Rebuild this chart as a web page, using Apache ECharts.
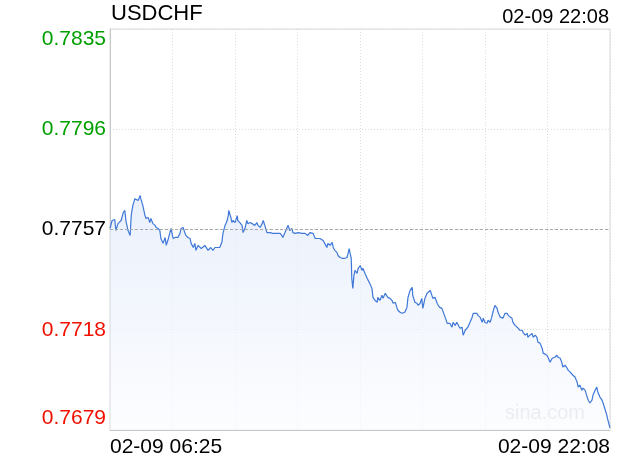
<!DOCTYPE html>
<html><head><meta charset="utf-8">
<script src="https://cdn.jsdelivr.net/npm/echarts@6/dist/echarts.min.js"></script>
<style>html,body{margin:0;padding:0;background:#fff}#c{width:620px;height:460px}</style>
</head><body><div id="c"></div>
<script>
const symbolName = 'USDCHF';
const updateTime = '02-09 22:08';
const watermark = 'sina.com';
const sessionMinutes = 943; // 06:25 -> 22:08
const xTickValues = [0, 943];
const xTickLabels = ['02-09 06:25', '02-09 22:08'];
const prevClose = 0.7757;
const yTicks = [0.7679, 0.7718, 0.7757, 0.7796, 0.7835];
const yTickLabels = ['0.7679', '0.7718', '0.7757', '0.7796', '0.7835'];

const minutes = [0,4,9,11,15,21,25,28,30,34,38,40,43,47,49,53,57,58,62,66,68,72,75,77,81,85,87,91,94,96,100,104,106,109,113,115,119,123,128,132,134,138,141,143,147,151,153,157,160,162,166,172,179,185,190,194,198,202,207,211,213,217,221,223,224,228,230,232,236,240,241,245,249,251,255,258,260,264,268,270,273,277,279,283,287,289,292,296,298,302,307,315,321,324,326,330,334,336,339,343,345,349,355,362,368,373,377,383,387,390,396,402,405,409,411,415,419,421,424,428,430,434,438,439,443,447,449,451,455,456,458,460,462,466,468,472,475,477,481,485,487,490,494,496,500,504,505,509,513,515,519,522,524,528,532,534,538,541,543,547,551,553,556,560,562,566,570,571,575,579,581,585,588,590,594,598,600,604,607,609,613,617,619,622,626,628,632,636,638,641,645,647,651,654,656,660,664,666,670,673,675,679,683,685,688,692,694,698,702,704,707,711,713,717,720,722,726,730,732,736,739,741,745,749,751,754,758,760,764,768,769,773,777,779,783,787,788,792,796,798,802,805,807,811,815,817,820,824,826,830,834,836,839,843,845,849,852,854,858,862,864,868,871,873,877,881,883,886,890,892,896,900,902,905,909,911,915,918,920,924,928,930,934,937,939,943];

const prices = [0.77574,0.77605,0.77609,0.77566,0.77593,0.77605,0.77636,0.77644,0.77605,0.77566,0.77547,0.77624,0.77663,0.77690,0.77694,0.77683,0.77702,0.77690,0.77663,0.77624,0.77613,0.77617,0.77597,0.77613,0.77593,0.77586,0.77578,0.77574,0.77566,0.77535,0.77516,0.77539,0.77508,0.77527,0.77558,0.77574,0.77535,0.77539,0.77539,0.77555,0.77574,0.77578,0.77558,0.77547,0.77539,0.77535,0.77516,0.77500,0.77516,0.77489,0.77508,0.77496,0.77508,0.77489,0.77500,0.77489,0.77500,0.77500,0.77500,0.77520,0.77555,0.77586,0.77605,0.77624,0.77644,0.77617,0.77597,0.77605,0.77597,0.77624,0.77605,0.77597,0.77586,0.77558,0.77578,0.77605,0.77593,0.77597,0.77593,0.77597,0.77586,0.77597,0.77586,0.77578,0.77593,0.77605,0.77586,0.77558,0.77555,0.77558,0.77555,0.77555,0.77555,0.77547,0.77539,0.77558,0.77578,0.77586,0.77566,0.77574,0.77558,0.77555,0.77558,0.77555,0.77555,0.77547,0.77558,0.77555,0.77535,0.77539,0.77535,0.77527,0.77516,0.77500,0.77516,0.77508,0.77520,0.77500,0.77489,0.77481,0.77469,0.77461,0.77458,0.77461,0.77458,0.77461,0.77477,0.77496,0.77458,0.77380,0.77341,0.77391,0.77411,0.77399,0.77419,0.77430,0.77411,0.77419,0.77399,0.77380,0.77372,0.77360,0.77341,0.77306,0.77294,0.77287,0.77306,0.77294,0.77314,0.77302,0.77322,0.77326,0.77306,0.77302,0.77294,0.77283,0.77287,0.77267,0.77256,0.77248,0.77244,0.77244,0.77248,0.77267,0.77306,0.77333,0.77345,0.77314,0.77287,0.77283,0.77275,0.77283,0.77302,0.77263,0.77302,0.77322,0.77326,0.77333,0.77314,0.77302,0.77306,0.77283,0.77275,0.77267,0.77263,0.77267,0.77229,0.77205,0.77209,0.77205,0.77190,0.77209,0.77197,0.77209,0.77205,0.77186,0.77190,0.77159,0.77178,0.77178,0.77190,0.77209,0.77229,0.77244,0.77248,0.77244,0.77236,0.77229,0.77209,0.77225,0.77209,0.77205,0.77217,0.77209,0.77229,0.77248,0.77275,0.77263,0.77248,0.77229,0.77236,0.77225,0.77244,0.77244,0.77236,0.77232,0.77225,0.77209,0.77197,0.77190,0.77186,0.77178,0.77178,0.77170,0.77159,0.77166,0.77151,0.77159,0.77166,0.77151,0.77159,0.77151,0.77132,0.77128,0.77108,0.77089,0.77089,0.77081,0.77073,0.77054,0.77069,0.77069,0.77073,0.77081,0.77073,0.77069,0.77054,0.77035,0.77042,0.77031,0.77023,0.77015,0.77011,0.77003,0.76996,0.76976,0.76957,0.76965,0.76945,0.76953,0.76945,0.76918,0.76906,0.76895,0.76906,0.76926,0.76945,0.76957,0.76938,0.76918,0.76906,0.76895,0.76868,0.76848,0.76829,0.76798];

const FONT = '"Liberation Sans", Arial, Helvetica, sans-serif';
const chart = echarts.init(document.getElementById('c'), null, {renderer: 'canvas'});

function yLabelStyle(v) {
  if (Math.abs(v - prevClose) < 1e-6) return 'mid';
  return v > prevClose ? 'up' : 'down';
}

chart.setOption({
  animation: false,
  backgroundColor: '#fff',
  title: [
    {text: symbolName, left: 111, top: 3, padding: 0,
     textStyle: {fontFamily: FONT, fontSize: 22, fontWeight: 'normal', color: '#000'}},
    {text: updateTime, right: 11, top: 7, padding: 0,
     textStyle: {fontFamily: FONT, fontSize: 20, fontWeight: 'normal', color: '#000'}}
  ],
  graphic: [{
    type: 'text', right: 35, top: 403, silent: true,
    style: {text: watermark, fontFamily: FONT, fontSize: 20, fill: '#cccccc'}
  }],
  grid: {left: 110, right: 10, top: 29, bottom: 30, show: true, borderColor: '#d8d8d8', borderWidth: 1},
  xAxis: {
    type: 'value', min: 0, max: sessionMinutes, interval: sessionMinutes / 8,
    axisLine: {show: true, lineStyle: {color: '#c8c8c8'}},
    axisTick: {show: false},
    splitLine: {show: true, lineStyle: {color: '#dcdcdc', type: [1, 2]}},
    axisLabel: {
      customValues: xTickValues,
      alignMinLabel: 'left', alignMaxLabel: 'right',
      margin: 7,
      fontFamily: FONT, fontSize: 21, color: '#000',
      formatter: v => xTickLabels[xTickValues.indexOf(v)] || ''
    }
  },
  yAxis: {
    type: 'value', min: yTicks[0], max: yTicks[yTicks.length - 1],
    axisLine: {show: true, lineStyle: {color: '#c8c8c8'}},
    axisTick: {show: false, customValues: yTicks},
    splitLine: {show: true, lineStyle: {color: '#dcdcdc', type: [1, 2]}},
    axisLabel: {
      customValues: yTicks,
      margin: 4,
      fontFamily: FONT, fontSize: 21,
      formatter: v => {
        const i = yTicks.findIndex(t => Math.abs(t - v) < 1e-6);
        const txt = yTickLabels[i];
        const s = yLabelStyle(v);
        if (i === yTicks.length - 1) return '{' + s + 'Top|' + txt + '}';
        if (i === 0) return '{' + s + 'Bot|' + txt + '}';
        return '{' + s + '|' + txt + '}';
      },
      rich: {
        up: {color: '#00a000', fontFamily: FONT, fontSize: 21},
        upTop: {color: '#00a000', fontFamily: FONT, fontSize: 21, padding: [21, 0, 0, 0]},
        mid: {color: '#000000', fontFamily: FONT, fontSize: 21},
        down: {color: '#f01000', fontFamily: FONT, fontSize: 21},
        downBot: {color: '#f01000', fontFamily: FONT, fontSize: 21, padding: [0, 0, 23, 0]}
      }
    }
  },
  series: [{
    type: 'line',
    data: minutes.map((m, i) => [m, prices[i]]),
    showSymbol: false,
    symbol: 'none',
    lineStyle: {color: '#3f78d8', width: 1.2},
    areaStyle: {
      origin: 'start',
      color: new echarts.graphic.LinearGradient(0, 0, 0, 1, [
        {offset: 0, color: '#e1eafa'},
        {offset: 1, color: '#fbfcff'}
      ])
    },
    markLine: {
      silent: true, symbol: 'none', label: {show: false},
      lineStyle: {color: '#a8a8a8', type: [3, 2], width: 1},
      data: [[{coord: [0, prevClose]}, {coord: [sessionMinutes, prevClose]}]]
    }
  }]
});
</script></body></html>
